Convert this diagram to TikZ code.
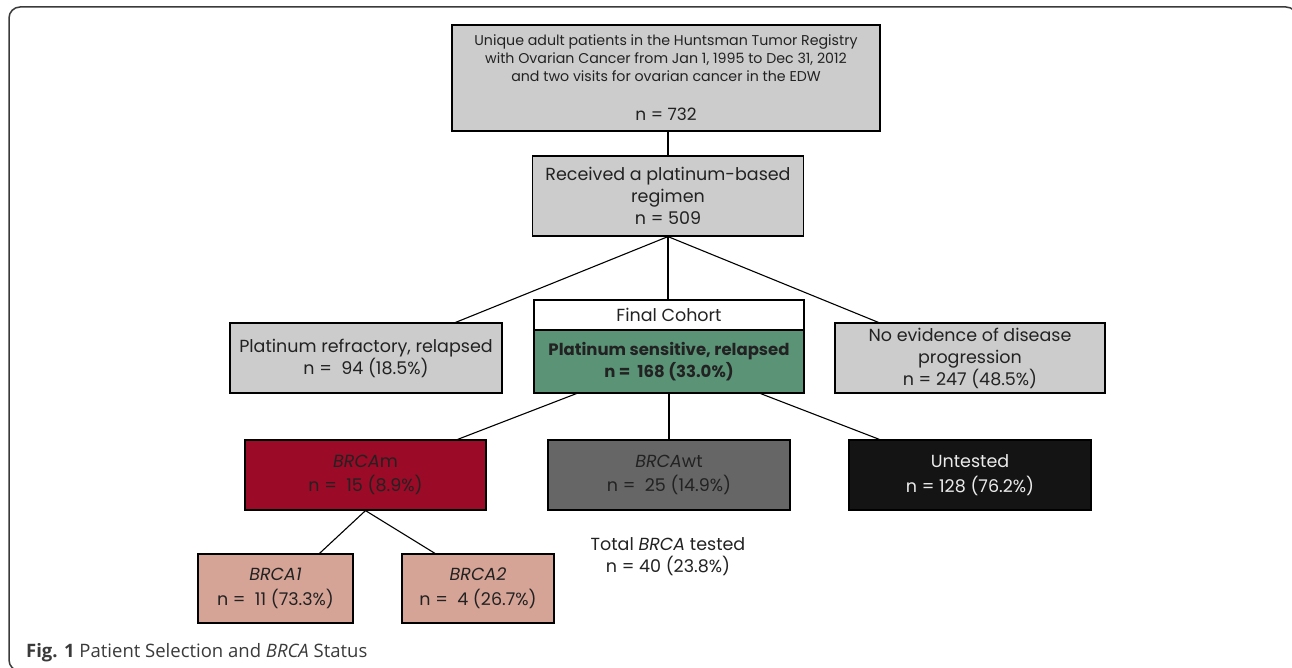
\documentclass[tikz,border=0pt]{standalone}
\usepackage{fontspec}
\setmainfont{Poppins}
\newfontfamily\capfont{Open Sans}
\usetikzlibrary{calc}
\definecolor{boxgray}{HTML}{CCCCCC}
\definecolor{cohortgreen}{HTML}{5B9377}
\definecolor{mutred}{HTML}{9B0A26}
\definecolor{wtgray}{HTML}{666666}
\definecolor{untblack}{HTML}{141414}
\definecolor{subpink}{HTML}{D6A497}
\definecolor{framegray}{HTML}{3A3A3A}
\definecolor{txt}{HTML}{222222}
\begin{document}
\begin{tikzpicture}[x=1pt,y=-1pt,
  box/.style={draw=black, line width=1.2pt, rectangle, inner sep=0pt, align=center, text=txt},
  conn/.style={draw=black, line width=1.1pt},
  fsmall/.style={font=\fontsize{14.2}{18}\selectfont},
  fmid/.style={font=\fontsize{17.5}{22}\selectfont},
  fwide/.style={font=\fontsize{17.5}{24.5}\selectfont},
]
\useasboundingbox (0,0) rectangle (1292,668);
\begin{scope}
\clip (0,0) rectangle (1292,668);
\draw[framegray, line width=1.5pt, rounded corners=11pt] (9,7) rectangle (1297,671);
\end{scope}

\node[box, fill=boxgray, fsmall, minimum width=428pt, minimum height=106pt] (top) at (666,78)
  {Unique adult patients in the Huntsman Tumor Registry\\with Ovarian Cancer from Jan 1, 1995 to Dec 31, 2012\\and two visits for ovarian cancer in the EDW\\[21pt]{\fontsize{17}{18}\selectfont n = 732}};
\node[box, fill=boxgray, fmid, minimum width=271pt, minimum height=80pt] (reg) at (668,196)
  {Received a platinum-based\\regimen\\n = 509};
\node[box, fill=boxgray, fmid, minimum width=272pt, minimum height=70pt] (refr) at (366,358)
  {Platinum refractory, relapsed\\n =~~94 (18.5\%)};
\node[box, fill=white, fmid, minimum width=270pt, minimum height=30pt] (coh) at (669,315)
  {Final Cohort};
\node[box, fill=cohortgreen, font=\fontsize{16.5}{22.5}\selectfont\bfseries, minimum width=270pt, minimum height=63pt] (sens) at (669,361.5)
  {Platinum sensitive, relapsed\\n =~~168 (33.0\%)};
\node[box, fill=boxgray, fmid, minimum width=270pt, minimum height=70pt] (noev) at (970,358)
  {No evidence of disease\\progression\\n = 247 (48.5\%)};

\node[box, fill=mutred, fwide, minimum width=241pt, minimum height=70pt] (mut) at (365.5,475)
  {\textit{BRCA}m\\n =~~15 (8.9\%)};
\node[box, fill=wtgray, fwide, minimum width=242pt, minimum height=70pt] (wt) at (669,475)
  {\textit{BRCA}wt\\n =~~25 (14.9\%)};
\node[box, fill=untblack, fwide, text=white!92!black, minimum width=242pt, minimum height=70pt] (unt) at (970,475)
  {Untested\\n = 128 (76.2\%)};

\node[box, fill=subpink, fwide, minimum width=155pt, minimum height=69pt] (b1) at (275.5,588.5)
  {\textit{BRCA1}\\n =~~11 (73.3\%)};
\node[box, fill=subpink, fwide, minimum width=152pt, minimum height=69pt] (b2) at (478,588.5)
  {\textit{BRCA2}\\n =~~4 (26.7\%)};

\node[fmid, align=center, text=txt, inner sep=0pt] (tot) at (668,557)
  {Total \textit{BRCA} tested\\n = 40 (23.8\%)};

\draw[conn] (reg.north) -- (reg.north |- top.south);
\draw[conn] (reg.south) -- ([xshift=-47pt]refr.north east);
\draw[conn] (reg.south) -- (reg.south |- coh.north);
\draw[conn] (reg.south) -- ([xshift=44pt]noev.north west);
\draw[conn] ([xshift=43pt]sens.south west) -- ([xshift=-29pt]mut.north east);
\draw[conn] (sens.south) -- (sens.south |- wt.north);
\draw[conn] ([xshift=-44pt]sens.south east) -- ([xshift=31pt]unt.north west);
\draw[conn] (mut.south) -- ([xshift=44pt]b1.north);
\draw[conn] (mut.south) -- ([xshift=-43pt]b2.north);

\node[anchor=base west, inner sep=0pt, text=framegray, font=\capfont\fontsize{18.5}{22}\selectfont] (cap) at (26,657)
  {\textbf{Fig. 1} Patient Selection and \textit{BRCA} Status};
\end{tikzpicture}
\end{document}
